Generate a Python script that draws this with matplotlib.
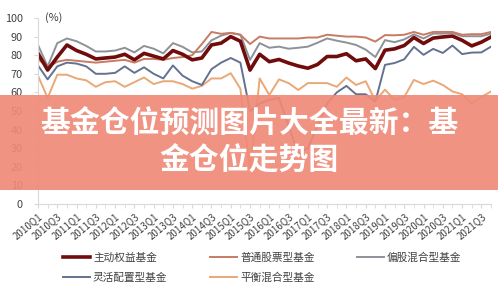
import matplotlib
matplotlib.use("Agg")
import matplotlib.pyplot as plt
from matplotlib.patches import Rectangle

plt.rcParams['font.family'] = ['Noto Sans CJK SC', 'DejaVu Sans']

quarters = [f"{y}Q{q}" for y in range(2010, 2022) for q in range(1, 5)]

# fund positions, % of assets
active = [81, 72, 79, 85.5, 82.5, 80.5, 78, 78.5, 79, 80.5,
          77.5, 81, 79.5, 78, 82.5, 80.5, 77.5, 78.5, 85.5, 86.5,
          90, 87.5, 72, 80.5, 76.5, 77.7, 75.8, 74.2, 73, 75,
          79.3, 79.3, 80.8, 77, 78, 72.8, 82.7, 83.4, 85.2, 89.5,
          86.3, 89.2, 89.8, 90.3, 88, 85, 87, 89.8]
stock = [78, 73.5, 76.5, 77.5, 77, 76.5, 76, 76.5, 77, 77.5,
         76, 78, 78, 77.5, 78.5, 79, 80, 86, 92.5, 91.5,
         92, 91, 86, 90, 89, 89, 89, 89, 89.5, 89.5,
         91, 90.5, 90, 90, 89.5, 87.3, 90.8, 90.7, 91, 92.5,
         91, 92.5, 92.5, 92.5, 91, 91.3, 91.3, 92.5]
equity_mixed = [85.5, 74, 86.5, 89, 87.5, 85, 82, 82, 82.5, 84,
                81.5, 85, 83.5, 81, 86.5, 84.5, 81.5, 82, 88, 90.5,
                92, 91, 77.5, 86.5, 84, 84.6, 83.5, 84, 84.6, 86.7,
                89, 87.8, 86.8, 85.5, 83, 79, 88.1, 87, 88.5, 91.2,
                89, 91.6, 91.6, 92, 90.2, 90.2, 90.2, 91.6]
flexible = [74.5, 67, 74, 76, 75.5, 74, 70, 70, 70.5, 74,
            70.5, 73.5, 70, 67.5, 74.5, 69, 66, 64, 72.5, 76,
            78.5, 76, 50, 54, 56, 57, 42, 27, 30, 42,
            54, 60, 63.5, 59, 59, 55, 74.8, 75.8, 77.8, 84.5,
            80.2, 83.4, 81.2, 85.2, 80.6, 81.4, 81.5, 84.6]
balanced = [69, 57, 69.5, 69.5, 67.5, 66.5, 63, 65.5, 66, 63,
            65.5, 68, 64.5, 66, 66, 64.5, 62, 63.5, 67.5, 67.5,
            70.3, 62, 18, 67.5, 58.6, 67, 65, 61.3, 65, 65,
            65, 63, 68, 64, 66, 55.5, 61.5, 56, 57.5, 66.7,
            64.5, 66.3, 64, 60.5, 59, 54, 57.5, 60.5]

fig = plt.figure(figsize=(4.98, 2.87), dpi=100)
ax = fig.add_axes([38/498, 1-204/287, (491-38)/498, (204-18)/287])

x = range(len(quarters))
l_bal, = ax.plot(x, balanced, color='#e8a877', lw=1.4, label='平衡混合型基金')
l_flex, = ax.plot(x, flexible, color='#64728f', lw=1.4, label='灵活配置型基金')
l_mix, = ax.plot(x, equity_mixed, color='#8e9198', lw=1.4, label='偏股混合型基金')
l_stock, = ax.plot(x, stock, color='#c77b63', lw=1.4, label='普通股票型基金')
l_act, = ax.plot(x, active, color='#700c0c', lw=2.6, label='主动权益基金')

ax.set_xlim(0, len(quarters) - 1)
ax.set_ylim(0, 100)
ax.set_yticks(range(0, 101, 10))
ax.set_xticks(list(x)[::2])
ax.set_xticklabels(quarters[::2], rotation=40, ha='right', rotation_mode='anchor')
ax.set_xticks(list(x), minor=True)

for s in ['top', 'right']:
    ax.spines[s].set_visible(False)
for s in ['left', 'bottom']:
    ax.spines[s].set_color('#d9d9d9')
    ax.spines[s].set_linewidth(0.8)

ax.tick_params(axis='y', length=3, color='#d9d9d9', labelsize=7.8, labelcolor='#404040', pad=8)
ax.tick_params(axis='x', which='both', length=3, color='#d9d9d9', labelsize=7, labelcolor='#404040', pad=2)

fig.text(45/498, 1-18/287, '(%)', fontsize=7.8, color='#404040', va='center', ha='left')

fig.legend([l_act, l_flex, l_stock, l_bal, l_mix],
           [h.get_label() for h in [l_act, l_flex, l_stock, l_bal, l_mix]],
           ncol=3, loc='upper left', bbox_to_anchor=(63/498, 1-252/287),
           frameon=False, fontsize=7.7, handlelength=2.5, handletextpad=0.3,
           columnspacing=4.0, labelspacing=0.95, borderpad=0, borderaxespad=0,
           labelcolor='#404040')

# title banner laid over the plot
fig.patches.append(Rectangle((0, 1-190/287), 1, 95/287, transform=fig.transFigure,
                             facecolor='#ef8a77', alpha=0.92, zorder=10))
fig.text(0.5, 1-142/287, '基金仓位预测图片大全最新：基\n金仓位走势图', ha='center', va='center',
         fontsize=21.5, fontweight='bold', color='white', linespacing=1.3, zorder=11)

fig.savefig('out.png', dpi=100)
